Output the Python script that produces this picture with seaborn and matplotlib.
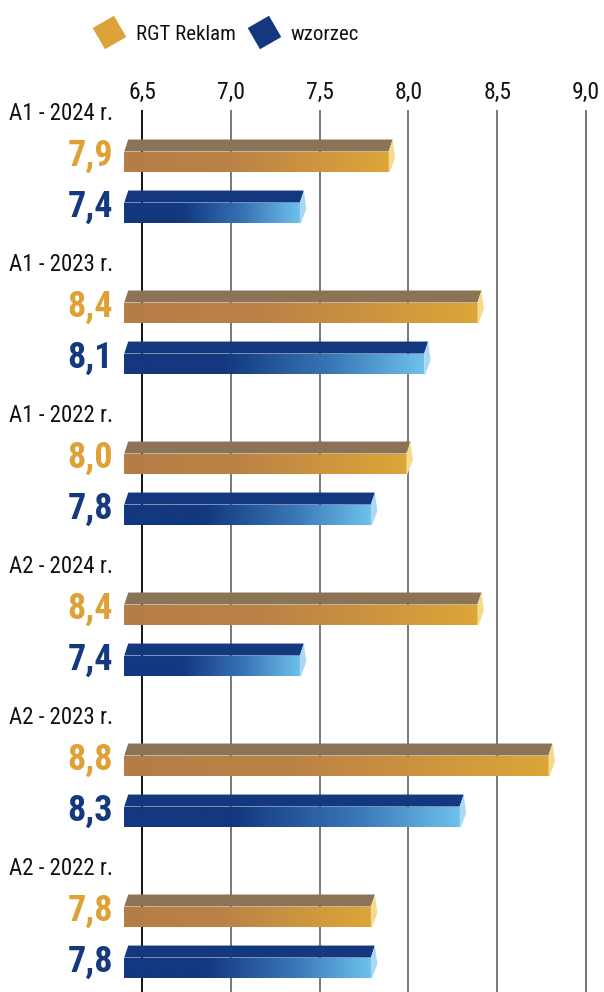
import matplotlib
matplotlib.use("Agg")
import matplotlib.pyplot as plt
import matplotlib.patches as mpatches
from matplotlib.colors import LinearSegmentedColormap
from matplotlib.lines import Line2D
import numpy as np
import pandas as pd
import seaborn as sns

# dane
groups = ["A1 - 2024 r.", "A1 - 2023 r.", "A1 - 2022 r.",
          "A2 - 2024 r.", "A2 - 2023 r.", "A2 - 2022 r."]
series = ["RGT Reklam", "wzorzec"]
rgt = [7.9, 8.4, 8.0, 8.4, 8.8, 7.8]
wzorzec = [7.4, 8.1, 7.8, 7.4, 8.3, 7.8]
ticks = [6.5, 7.0, 7.5, 8.0, 8.5, 9.0]
base = 6.4

sns.set_style("white")
plt.rcParams["font.family"] = ["Roboto Condensed", "Roboto", "DejaVu Sans"]

df = pd.DataFrame({
    "grupa": groups * 2,
    "seria": [series[0]] * len(groups) + [series[1]] * len(groups),
    "ocena": rgt + wzorzec,
})

# kolory: front (gradient), gora, koncowka, tekst
styles = {
    "RGT Reklam": dict(grad=[(0, "#B57D46"), (0.4, "#BB8246"), (1, "#DCA638")],
                       top="#8B7355", cap="#F6DA8C", text="#DDA136"),
    "wzorzec": dict(grad=[(0, "#13387F"), (0.33, "#13387F"), (0.7, "#3A78B8"), (1, "#6EC1EC")],
                    top="#13387F", cap="#A8D8F5", text="#15397F"),
}

fig = plt.figure(figsize=(6.04, 9.92), dpi=100)
ax = fig.add_axes([0, 0, 1, 882 / 992])

sns.barplot(data=df, y="grupa", x="ocena", hue="seria", orient="h",
            width=0.676, gap=0.59, palette=["#B57D46", "#13387F"],
            errorbar=None, legend=False, ax=ax, zorder=2)

px = 177.6  # pikseli na jednostke osi x
dx = 4 / px
th = 12 / 151

for name, cont in zip(series, ax.containers):
    st = styles[name]
    cmap = LinearSegmentedColormap.from_list(name, st["grad"])
    for bar in cont:
        v = bar.get_width()
        y0 = bar.get_y()
        h = bar.get_height()
        end = v - 2 / px
        bar.set_x(base)
        bar.set_width(end - base)
        bar.set_linewidth(0)
        grad = cmap(np.linspace(0, 1, 256))[np.newaxis, :, :]
        im = ax.imshow(grad, extent=(base, end, y0 + h, y0), aspect="auto",
                       zorder=2.1, interpolation="bicubic")
        im.set_clip_path(bar)
        ax.add_patch(mpatches.Polygon(
            [(base, y0), (end, y0), (end + dx, y0 - th), (base + dx, y0 - th)],
            closed=True, facecolor=st["top"], edgecolor="none", zorder=2.2))
        ax.add_patch(mpatches.Polygon(
            [(end, y0), (end + dx, y0 - th), (end + dx + 2.5 / px, y0 + 0.3 * h),
             (end + 1 / px, y0 + h), (end, y0 + h)],
            closed=True, facecolor=st["cap"], edgecolor="none", zorder=2.2))
        ax.annotate(f"{v:.1f}".replace(".", ","), xy=(base, y0 + (h - th) / 2),
                    xytext=(-8, 0), textcoords="offset points",
                    ha="right", va="center", fontsize=26, fontweight="bold",
                    color=st["text"])

for k, g in enumerate(groups):
    ax.annotate(g, xy=(base, k - 0.493), xytext=(-8, 0), textcoords="offset points",
                ha="right", va="center", fontsize=16.5, color="#111111")

for t in ticks:
    ax.axvline(t, color="black" if t == ticks[0] else "#6d6d6d", lw=1.3, zorder=0)

ax.set_xlim(6.5 - 142 / px, 6.5 + (604 - 142) / px)
ax.set_ylim((992 - 187.5) / 151, (110 - 187.5) / 151)
ax.xaxis.tick_top()
ax.set_xticks(ticks, labels=[f"{t:.1f}".replace(".", ",") for t in ticks])
ax.tick_params(axis="x", length=0, pad=4, labelsize=17, labelcolor="#111111")
ax.set_yticks([])
ax.set_xlabel("")
ax.set_ylabel("")
sns.despine(ax=ax, left=True, bottom=True, top=True, right=True)

handles = [Line2D([], [], linestyle="none", marker=(4, 0, -15), markersize=25,
                  markerfacecolor=c, markeredgecolor="none")
           for c in ["#DBA33A", "#14387F"]]
fig.legend(handles, series, loc="center", bbox_to_anchor=(226 / 604, 1 - 34 / 992),
           ncol=2, frameon=False, fontsize=15, handletextpad=0.55,
           columnspacing=0.6, handlelength=1.5, labelcolor="#111111")

fig.savefig("out.png", dpi=100)
